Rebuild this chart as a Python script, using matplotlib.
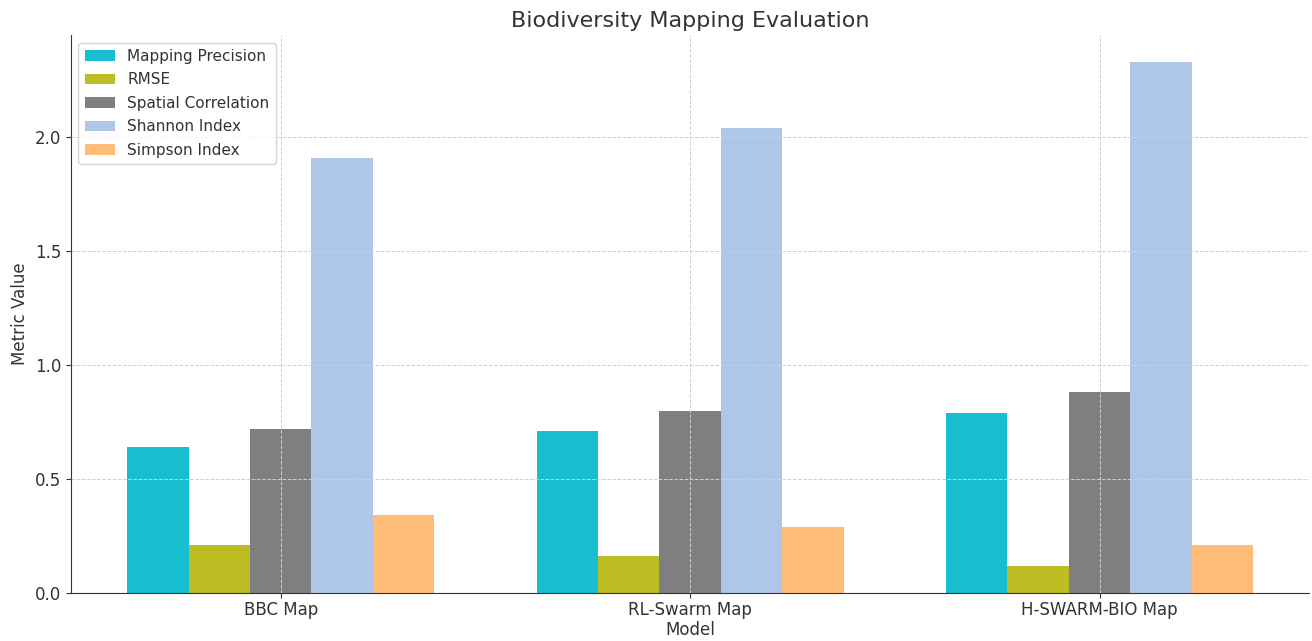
import numpy as np
import matplotlib
matplotlib.use("Agg")
import matplotlib.pyplot as plt

models = ["BBC Map", "RL-Swarm Map", "H-SWARM-BIO Map"]
metrics = ["Mapping Precision", "RMSE", "Spatial Correlation", "Shannon Index", "Simpson Index"]
mapping_precision = [0.64, 0.71, 0.79]
rmse = [0.21, 0.16, 0.12]
spatial_corr = [0.72, 0.80, 0.88]
shannon = [1.91, 2.04, 2.33]
simpson = [0.34, 0.29, 0.21]

series = [mapping_precision, rmse, spatial_corr, shannon, simpson]
colors = ["#17becf", "#bcbd22", "#7f7f7f", "#aec7e8", "#ffbb78"]

plt.rcParams["text.color"] = "#333333"
plt.rcParams["axes.labelcolor"] = "#333333"
plt.rcParams["xtick.color"] = "#333333"
plt.rcParams["ytick.color"] = "#333333"

fig, ax = plt.subplots(figsize=(13.12, 6.41), dpi=100)
x = np.arange(len(models))
width = 0.15
for i, (vals, name, c) in enumerate(zip(series, metrics, colors)):
    ax.bar(x + (i - 2) * width, vals, width, label=name, color=c)

ax.set_xticks(x)
ax.set_xticklabels(models, fontsize=12)
ax.tick_params(axis="y", labelsize=12)
ax.tick_params(axis="x", pad=2)
ax.set_xlabel("Model", fontsize=12, labelpad=2)
ax.set_ylabel("Metric Value", fontsize=12)
ax.set_title("Biodiversity Mapping Evaluation", fontsize=16)
ax.set_axisbelow(False)
ax.grid(True, linestyle="--", color="#d0d0d0", linewidth=0.7)
ax.spines["top"].set_visible(False)
ax.spines["right"].set_visible(False)
ax.spines["left"].set_color("#333333")
ax.spines["bottom"].set_color("#333333")
ax.legend(loc="upper left", fontsize=11, labelspacing=0.55, borderaxespad=0.5)

fig.subplots_adjust(left=0.054, right=0.998, top=0.945, bottom=0.075)
plt.savefig("out.png", dpi=100)
